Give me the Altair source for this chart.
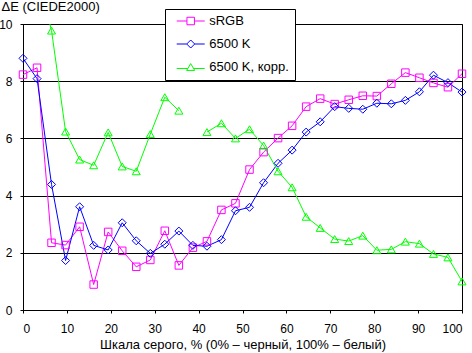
import altair as alt
import pandas as pd

# Grey-scale level, %
x_vals = [0, 3.2, 6.5, 9.7, 12.9, 16.1, 19.4, 22.6, 25.8, 29.0, 32.3, 35.5, 38.7,
          41.9, 45.2, 48.4, 51.6, 54.8, 58.1, 61.3, 64.5, 67.7, 71.0, 74.2, 77.4,
          80.6, 83.9, 87.1, 90.3, 93.5, 96.8, 100]

srgb = [8.23, 8.47, 2.35, 2.27, 2.91, 0.89, 2.73, 2.07, 1.51, 1.75, 2.77, 1.56,
        2.18, 2.40, 3.50, 3.73, 4.91, 5.52, 6.01, 6.44, 7.11, 7.39, 7.20, 7.35,
        7.49, 7.48, 7.91, 8.30, 8.12, 7.94, 7.79, 8.26]

k6500 = [8.80, 8.09, 4.39, 1.73, 3.61, 2.26, 2.10, 3.05, 2.42, 1.98, 2.30, 2.76,
         2.26, 2.23, 2.46, 3.47, 3.59, 4.45, 5.13, 5.59, 6.22, 6.58, 7.11, 7.05,
         7.02, 7.23, 7.21, 7.33, 7.63, 8.21, 7.95, 7.62]

k6500_corr = [10.1, 11.8, 9.77, 6.24, 5.26, 5.06, 6.21, 5.02, 4.85, 6.15, 7.44, 6.97,
              None, 6.22, 6.53, 6.00, 6.32, 5.75, 4.85, 4.29, 3.26, 2.87, 2.48, 2.41,
              2.60, 2.09, 2.12, 2.39, 2.32, 1.96, 1.84, 1.00]

series_names = ["sRGB", "6500 K", "6500 K, корр."]
series_colors = ["#FF00FF", "#0000FF", "#00FF00"]
marker_shapes = ["square", "diamond", "triangle-up"]
marker_sizes = [56, 64, 64]
legend_paths = [
    "M-2.8,0H-0.75M0.75,0H2.8M-0.75,-0.75H0.75V0.75H-0.75Z",
    "M-2.8,0H-0.8M0.8,0H2.8M0,-0.8L0.8,0L0,0.8L-0.8,0Z",
    "M-2.8,0.3H-0.57M0.57,0.3H2.8M0,-0.69L0.8,0.69L-0.8,0.69Z",
]

rows = []
for name, vals in zip(series_names, [srgb, k6500, k6500_corr]):
    seg = 0
    for xv, yv in zip(x_vals, vals):
        if yv is None:
            seg += 1
            continue
        rows.append({"x": xv, "y": yv, "series": name, "seg": f"{name}-{seg}"})
df = pd.DataFrame(rows)

FONT = "Liberation Sans"

X = alt.X("x:Q",
          scale=alt.Scale(domain=[0, 100], nice=False, zero=False),
          axis=alt.Axis(values=list(range(0, 101, 10)),
                        title="Шкала серого, % (0% – черный, 100% – белый)",
                        grid=False, labelPadding=10, titlePadding=4))
Y = alt.Y("y:Q",
          scale=alt.Scale(domain=[0, 10], nice=False),
          axis=alt.Axis(values=[0, 2, 4, 6, 8, 10], title="ΔE (CIEDE2000)",
                        titleAngle=0, titleAlign="left", titleBaseline="alphabetic",
                        titleX=-22, titleY=-13.5, grid=True, gridColor="black",
                        gridOpacity=1, gridWidth=1, labelPadding=8))

layers = []
for name, col in zip(series_names, series_colors):
    layers.append(
        alt.Chart(df)
        .transform_filter(alt.datum.series == name)
        .mark_line(clip=True, strokeWidth=1, color=col)
        .encode(x=X, y=Y, detail="seg:N")
    )

for name, col, shp, sz in zip(series_names, series_colors, marker_shapes, marker_sizes):
    layers.append(
        alt.Chart(df)
        .transform_filter((alt.datum.series == name) & (alt.datum.y <= 10))
        .mark_point(shape=shp, size=sz, filled=False, strokeWidth=1, color=col, opacity=1)
        .encode(x=X, y=Y)
    )

leg = alt.Legend(title=None, orient="none", legendX=142, legendY=-15,
                 strokeColor="black", fillColor="white", padding=5.5,
                 rowPadding=9, symbolOffset=13.7, labelOffset=12,
                 labelFont=FONT, labelFontSize=13, labelColor="black",
                 symbolSize=100, symbolStrokeWidth=1)

legend_layer = alt.Chart(df).transform_filter("false").mark_point(
    filled=False, size=100, strokeWidth=1, opacity=1
).encode(
    x=X, y=Y,
    color=alt.Color("series:N", scale=alt.Scale(domain=series_names, range=series_colors), legend=leg),
    shape=alt.Shape("series:N", scale=alt.Scale(domain=series_names, range=legend_paths), legend=leg),
)
layers.append(legend_layer)

chart = alt.layer(*layers).properties(
    width=439, height=286,
    padding={"left": 23, "top": 24, "right": 10, "bottom": 43},
    autosize=alt.AutoSizeParams(type="none"),
    background="white",
).configure_view(
    stroke="black", strokeWidth=1
).configure_axis(
    labelFont=FONT, labelFontSize=12, labelColor="black",
    titleFont=FONT, titleFontSize=13, titleFontWeight="normal", titleColor="black",
    domainColor="black", domainWidth=1, tickColor="black", tickSize=3, tickWidth=1,
)

chart.save("out.html", embed_options={"renderer": "svg", "actions": False})
